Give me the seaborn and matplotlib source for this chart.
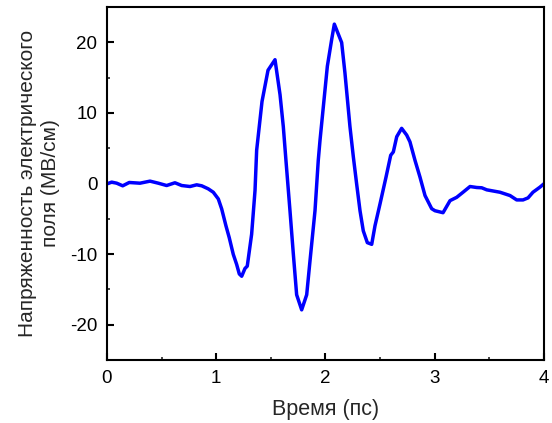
import matplotlib
matplotlib.use("Agg")
import matplotlib.pyplot as plt
from matplotlib.ticker import MultipleLocator
import numpy as np
import pandas as pd
import seaborn as sns

# Measured THz field waveform: time (ps) and field strength (MV/cm)
time_ps = [
    0.003, 0.043, 0.089, 0.144, 0.204, 0.302, 0.394, 0.470, 0.546, 0.622,
    0.684, 0.760, 0.821, 0.867, 0.927, 0.973, 1.019, 1.050, 1.089, 1.119,
    1.156, 1.187, 1.211, 1.233, 1.263, 1.284, 1.324, 1.355, 1.370, 1.419,
    1.474, 1.538, 1.584, 1.614, 1.638, 1.675, 1.706, 1.736, 1.782, 1.828,
    1.858, 1.904, 1.934, 1.950, 2.017, 2.057, 2.081, 2.148, 2.178, 2.224,
    2.255, 2.285, 2.316, 2.346, 2.383, 2.423, 2.453, 2.499, 2.554, 2.597,
    2.621, 2.652, 2.697, 2.743, 2.773, 2.819, 2.865, 2.911, 2.972, 3.002,
    3.076, 3.140, 3.201, 3.259, 3.323, 3.384, 3.430, 3.476, 3.597, 3.689,
    3.750, 3.808, 3.854, 3.899, 3.963, 4.000,
]
field_mv_cm = [
    -0.04, 0.19, 0.04, -0.33, 0.14, 0.04, 0.33, 0.04, -0.29, 0.10,
    -0.29, -0.43, -0.19, -0.33, -0.76, -1.24, -2.19, -3.61, -6.00, -7.67,
    -10.04, -11.47, -12.81, -13.14, -12.04, -11.71, -7.19, -1.00, 4.71, 11.61,
    16.04, 17.53, 12.57, 8.04, 3.29, -3.86, -10.05, -15.76, -17.90, -15.76,
    -11.00, -3.86, 3.29, 6.14, 16.60, 20.43, 22.57, 19.96, 15.67, 8.05,
    3.76, -0.05, -3.86, -6.71, -8.38, -8.62, -6.00, -2.90, 0.90, 4.00,
    4.47, 6.62, 7.81, 6.86, 5.90, 3.29, 0.90, -1.71, -3.57, -3.86,
    -4.14, -2.43, -1.96, -1.24, -0.43, -0.57, -0.61, -0.90, -1.24, -1.71,
    -2.33, -2.33, -2.04, -1.24, -0.52, -0.04,
]

x_ticks = [0, 1, 2, 3, 4]
y_ticks = [-20, -10, 0, 10, 20]

df = pd.DataFrame({"t": time_ps, "E": field_mv_cm})

sns.set_style("ticks")
plt.rcParams["font.family"] = ["Liberation Sans", "DejaVu Sans"]

fig = plt.figure(figsize=(5.52, 4.23), dpi=100)
ax = fig.add_axes([0.1938, 0.149, 0.7917, 0.8345])

sns.lineplot(data=df, x="t", y="E", ax=ax, color="#0000ff", linewidth=2.5,
             sort=False, estimator=None)

ax.set_xlim(0, 4)
ax.set_ylim(-25, 25)
ax.set_xticks(x_ticks)
ax.set_yticks(y_ticks)
ax.set_xticklabels([str(v) for v in x_ticks])
ax.set_yticklabels([str(v) for v in y_ticks])
ax.xaxis.set_minor_locator(MultipleLocator(0.5))
ax.yaxis.set_minor_locator(MultipleLocator(5))

ax.tick_params(which="major", direction="in", length=5, width=1.5,
               labelsize=13.5, colors="black")
ax.tick_params(axis="x", which="major", pad=7)
ax.tick_params(axis="y", which="major", pad=7)
ax.tick_params(which="minor", direction="in", length=2.5, width=1.2)
ax.tick_params(top=False, right=False, which="both")

for side in ["left", "right", "top", "bottom"]:
    ax.spines[side].set_visible(True)
    ax.spines[side].set_linewidth(1.5)
    ax.spines[side].set_color("black")

ax.set_xlabel("Время (пс)", fontsize=15.5, labelpad=9)
ax.set_ylabel("Напряженность электрического\nполя (МВ/см)", fontsize=15,
              labelpad=7, linespacing=1.25)

fig.savefig("out.png", dpi=100)
